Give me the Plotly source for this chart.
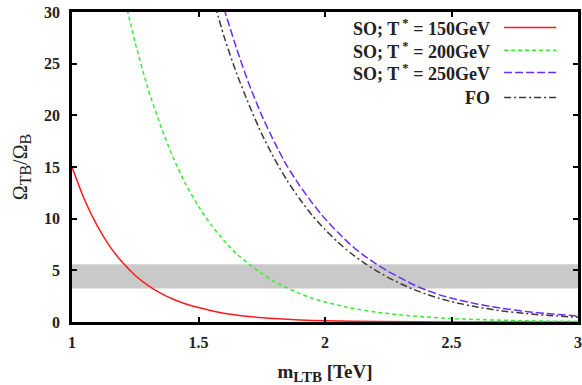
import plotly.graph_objects as go

# ---- data ----
x_red = [1.00, 1.05, 1.10, 1.15, 1.20, 1.25, 1.30, 1.35, 1.40, 1.45, 1.50, 1.60, 1.70, 1.80, 1.90, 2.00, 2.20, 2.50, 3.00]
y_red = [15.0, 11.8, 9.3, 7.3, 5.75, 4.5, 3.55, 2.8, 2.2, 1.75, 1.4, 0.85, 0.53, 0.33, 0.2, 0.12, 0.05, 0.01, 0.0]

x_green = [1.20, 1.25, 1.30, 1.35, 1.40, 1.45, 1.50, 1.55, 1.60, 1.65, 1.70, 1.75, 1.80, 1.85, 1.90, 1.95, 2.00,
           2.10, 2.20, 2.30, 2.40, 2.50, 2.60, 2.70, 2.80, 2.90, 3.00]
y_green = [32.2, 27.0, 22.6, 19.0, 15.9, 13.3, 11.2, 9.4, 7.9, 6.6, 5.6, 4.7, 3.9, 3.3, 2.75, 2.3, 1.94,
           1.36, 0.96, 0.68, 0.48, 0.33, 0.24, 0.17, 0.12, 0.08, 0.06]

x_blue = [1.60, 1.65, 1.70, 1.75, 1.80, 1.85, 1.90, 1.95, 2.00, 2.05, 2.10, 2.15, 2.20, 2.25, 2.30, 2.35, 2.40,
          2.45, 2.50, 2.60, 2.70, 2.80, 2.90, 3.00]
y_blue = [30.4, 26.5, 23.0, 20.0, 17.4, 15.1, 13.2, 11.5, 10.0, 8.7, 7.5, 6.5, 5.65, 4.9, 4.25, 3.6, 3.1,
          2.65, 2.3, 1.75, 1.33, 1.0, 0.77, 0.58]

x_fo = [1.55, 1.60, 1.65, 1.70, 1.75, 1.80, 1.85, 1.90, 1.95, 2.00, 2.05, 2.10, 2.15, 2.20, 2.25, 2.30, 2.35,
        2.40, 2.45, 2.50, 2.60, 2.70, 2.80, 2.90, 3.00]
y_fo = [32.0, 27.7, 24.1, 21.0, 18.2, 15.8, 13.7, 11.9, 10.3, 8.95, 7.75, 6.7, 5.8, 5.0, 4.3, 3.7, 3.15,
        2.7, 2.3, 1.97, 1.45, 1.07, 0.8, 0.6, 0.47]

band_x = [1.0, 3.0]
band_lo = 3.25
band_hi = 5.6

series_names = ["SO; T<sup> *</sup> = 150GeV", "SO; T<sup> *</sup> = 200GeV",
                "SO; T<sup> *</sup> = 250GeV", "FO"]
colors = ["#ff1a1a", "#33ee33", "#6a2cff", "#3a3a3a"]
dashes = ["solid", "4px,3px", "8px,3px", "7px,3px,2px,3px"]

x_ticks = [1, 1.5, 2, 2.5, 3]
x_tick_text = ["1", "1.5", "2", "2.5", "3"]
y_ticks = [0, 5, 10, 15, 20, 25, 30]

serif = "Liberation Serif"

fig = go.Figure()

# shaded band
fig.add_trace(go.Scatter(
    x=[band_x[0], band_x[1], band_x[1], band_x[0]],
    y=[band_lo, band_lo, band_hi, band_hi],
    fill="toself", fillcolor="#c9c9c9", line=dict(width=0), mode="lines",
    hoverinfo="skip", showlegend=False))

for xs, ys, c, d, n in zip([x_red, x_green, x_blue, x_fo],
                           [y_red, y_green, y_blue, y_fo],
                           colors, dashes, series_names):
    fig.add_trace(go.Scatter(x=xs, y=ys, mode="lines", name=n,
                             line=dict(color=c, width=1.5, dash=d, shape="spline", smoothing=0.6),
                             showlegend=False))

# gnuplot-style legend (text right-aligned, sample on the right)
leg_rows = [0.95, 0.877, 0.805, 0.724]
for n, c, d, yy in zip(series_names, colors, dashes, leg_rows):
    fig.add_annotation(xref="paper", yref="paper", x=0.831, y=yy, xanchor="right", yanchor="middle",
                       text="<b>" + n + "</b>", showarrow=False,
                       font=dict(family=serif, size=18, color="#222"))
    fig.add_shape(type="line", xref="paper", yref="paper", x0=0.854, x1=0.957, y0=yy, y1=yy,
                  line=dict(color=c, width=1.5, dash=d))

axis_common = dict(showline=True, linecolor="black", linewidth=2.5, mirror="ticks",
                   ticks="inside", ticklen=5, tickwidth=2, tickcolor="black",
                   showgrid=False, zeroline=False, automargin=False,
                   tickfont=dict(family=serif, size=16, color="#222", weight="bold"))

fig.update_layout(
    width=582, height=385,
    margin=dict(l=72, r=4, t=12, b=63),
    paper_bgcolor="white", plot_bgcolor="white",
    xaxis=dict(range=[1, 3], tickvals=x_ticks, ticktext=x_tick_text, ticklabelstandoff=4,
               title=dict(text="<b>m<sub><span style='font-size:15px'>LTB</span></sub> [TeV]</b>",
                          font=dict(family=serif, size=19, color="#222"), standoff=16),
               **axis_common),
    yaxis=dict(range=[0, 30], tickvals=y_ticks, ticklabelstandoff=6,
               title=dict(text="Ω<sub><span style='font-size:16px'>TB</span></sub>/Ω<sub><span style='font-size:16px'>B</span></sub>",
                          font=dict(family=serif, size=20, color="#222"), standoff=12),
               **axis_common),
)

fig.write_html("out.html", config={"displayModeBar": False},
               post_script="document.body.style.margin='0';")
